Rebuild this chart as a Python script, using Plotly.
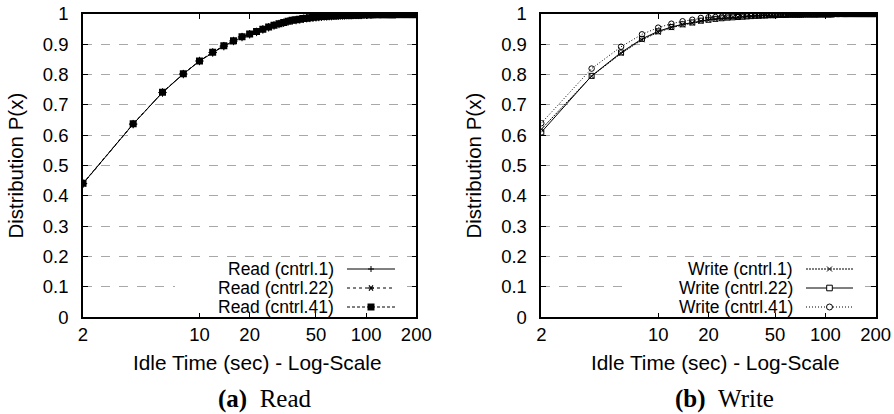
import math
import plotly.graph_objects as go

# ---------------- data ----------------
idle_time = list(range(2, 201, 2))  # sampling grid (sec)

read_cntrl1 = [
    0.441, 0.637, 0.741, 0.802, 0.845, 0.873, 0.894, 0.911, 0.924, 0.933,
    0.941, 0.949, 0.956, 0.962, 0.967, 0.971, 0.975, 0.978, 0.980, 0.982,
    0.984, 0.986, 0.987, 0.988, 0.989, 0.990, 0.991, 0.992, 0.992, 0.993,
    0.993, 0.994, 0.994, 0.994, 0.995, 0.995, 0.995, 0.996, 0.996, 0.996,
    0.996, 0.997, 0.997, 0.997, 0.997, 0.997, 0.997, 0.998, 0.998, 0.998,
    0.998, 0.998, 0.998, 0.998, 0.998, 0.999, 0.999, 0.999, 0.999, 0.999,
    0.999, 0.999, 0.999, 0.999, 0.999, 0.999, 0.999, 0.999, 0.999, 0.999,
    0.999, 0.999, 0.999, 0.999, 0.999, 1.000, 1.000, 1.000, 1.000, 1.000,
    1.000, 1.000, 1.000, 1.000, 1.000, 1.000, 1.000, 1.000, 1.000, 1.000,
    1.000, 1.000, 1.000, 1.000, 1.000, 1.000, 1.000, 1.000, 1.000, 1.000,
]
read_cntrl22 = [
    0.440, 0.637, 0.742, 0.803, 0.845, 0.874, 0.895, 0.912, 0.925, 0.934,
    0.942, 0.950, 0.957, 0.963, 0.968, 0.972, 0.976, 0.979, 0.981, 0.983,
    0.985, 0.986, 0.988, 0.989, 0.990, 0.991, 0.992, 0.992, 0.993, 0.993,
    0.994, 0.994, 0.994, 0.995, 0.995, 0.995, 0.996, 0.996, 0.996, 0.996,
    0.997, 0.997, 0.997, 0.997, 0.997, 0.997, 0.998, 0.998, 0.998, 0.998,
    0.998, 0.998, 0.998, 0.998, 0.998, 0.999, 0.999, 0.999, 0.999, 0.999,
    0.999, 0.999, 0.999, 0.999, 0.999, 0.999, 0.999, 0.999, 0.999, 0.999,
    0.999, 0.999, 0.999, 0.999, 0.999, 1.000, 1.000, 1.000, 1.000, 1.000,
    1.000, 1.000, 1.000, 1.000, 1.000, 1.000, 1.000, 1.000, 1.000, 1.000,
    1.000, 1.000, 1.000, 1.000, 1.000, 1.000, 1.000, 1.000, 1.000, 1.000,
]
read_cntrl41 = [
    0.442, 0.638, 0.742, 0.803, 0.845, 0.874, 0.895, 0.912, 0.925, 0.934,
    0.942, 0.950, 0.957, 0.963, 0.968, 0.972, 0.976, 0.979, 0.981, 0.983,
    0.985, 0.986, 0.988, 0.989, 0.990, 0.991, 0.992, 0.992, 0.993, 0.993,
    0.994, 0.994, 0.994, 0.995, 0.995, 0.995, 0.996, 0.996, 0.996, 0.996,
    0.997, 0.997, 0.997, 0.997, 0.997, 0.997, 0.998, 0.998, 0.998, 0.998,
    0.998, 0.998, 0.998, 0.998, 0.998, 0.999, 0.999, 0.999, 0.999, 0.999,
    0.999, 0.999, 0.999, 0.999, 0.999, 0.999, 0.999, 0.999, 0.999, 0.999,
    0.999, 0.999, 0.999, 0.999, 0.999, 1.000, 1.000, 1.000, 1.000, 1.000,
    1.000, 1.000, 1.000, 1.000, 1.000, 1.000, 1.000, 1.000, 1.000, 1.000,
    1.000, 1.000, 1.000, 1.000, 1.000, 1.000, 1.000, 1.000, 1.000, 1.000,
]

write_cntrl1 = [
    0.620, 0.795, 0.870, 0.915, 0.940, 0.955, 0.964, 0.970, 0.976, 0.980,
    0.983, 0.985, 0.987, 0.989, 0.990, 0.991, 0.992, 0.993, 0.994, 0.994,
    0.995, 0.995, 0.996, 0.996, 0.996, 0.997, 0.997, 0.997, 0.997, 0.998,
    0.998, 0.998, 0.998, 0.998, 0.998, 0.998, 0.999, 0.999, 0.999, 0.999,
    0.999, 0.999, 0.999, 0.999, 0.999, 0.999, 0.999, 0.999, 0.999, 0.999,
    0.999, 0.999, 0.999, 0.999, 0.999, 1.000, 1.000, 1.000, 1.000, 1.000,
    1.000, 1.000, 1.000, 1.000, 1.000, 1.000, 1.000, 1.000, 1.000, 1.000,
    1.000, 1.000, 1.000, 1.000, 1.000, 1.000, 1.000, 1.000, 1.000, 1.000,
    1.000, 1.000, 1.000, 1.000, 1.000, 1.000, 1.000, 1.000, 1.000, 1.000,
    1.000, 1.000, 1.000, 1.000, 1.000, 1.000, 1.000, 1.000, 1.000, 1.000,
]
write_cntrl22 = [
    0.610, 0.796, 0.873, 0.918, 0.943, 0.957, 0.966, 0.972, 0.978, 0.981,
    0.984, 0.986, 0.988, 0.989, 0.990, 0.991, 0.992, 0.993, 0.994, 0.994,
    0.995, 0.995, 0.996, 0.996, 0.996, 0.997, 0.997, 0.997, 0.997, 0.998,
    0.998, 0.998, 0.998, 0.998, 0.998, 0.998, 0.999, 0.999, 0.999, 0.999,
    0.999, 0.999, 0.999, 0.999, 0.999, 0.999, 0.999, 0.999, 0.999, 0.999,
    0.999, 0.999, 0.999, 0.999, 0.999, 1.000, 1.000, 1.000, 1.000, 1.000,
    1.000, 1.000, 1.000, 1.000, 1.000, 1.000, 1.000, 1.000, 1.000, 1.000,
    1.000, 1.000, 1.000, 1.000, 1.000, 1.000, 1.000, 1.000, 1.000, 1.000,
    1.000, 1.000, 1.000, 1.000, 1.000, 1.000, 1.000, 1.000, 1.000, 1.000,
    1.000, 1.000, 1.000, 1.000, 1.000, 1.000, 1.000, 1.000, 1.000, 1.000,
]
write_cntrl41 = [
    0.640, 0.820, 0.892, 0.933, 0.955, 0.968, 0.976, 0.981, 0.987, 0.989,
    0.990, 0.991, 0.992, 0.993, 0.994, 0.995, 0.995, 0.996, 0.996, 0.997,
    0.997, 0.997, 0.998, 0.998, 0.998, 0.998, 0.998, 0.999, 0.999, 0.999,
    0.999, 0.999, 0.999, 0.999, 0.999, 0.999, 0.999, 0.999, 0.999, 0.999,
    0.999, 0.999, 0.999, 0.999, 0.999, 1.000, 1.000, 1.000, 1.000, 1.000,
    1.000, 1.000, 1.000, 1.000, 1.000, 1.000, 1.000, 1.000, 1.000, 1.000,
    1.000, 1.000, 1.000, 1.000, 1.000, 1.000, 1.000, 1.000, 1.000, 1.000,
    1.000, 1.000, 1.000, 1.000, 1.000, 1.000, 1.000, 1.000, 1.000, 1.000,
    1.000, 1.000, 1.000, 1.000, 1.000, 1.000, 1.000, 1.000, 1.000, 1.000,
    1.000, 1.000, 1.000, 1.000, 1.000, 1.000, 1.000, 1.000, 1.000, 1.000,
]

x_tick_vals = [2, 10, 20, 50, 100, 200]
x_tick_text = ["2", "10", "20", "50", "100", "200"]
y_tick_vals = [0, 0.1, 0.2, 0.3, 0.4, 0.5, 0.6, 0.7, 0.8, 0.9, 1]
y_tick_text = ["0", "0.1", "0.2", "0.3", "0.4", "0.5", "0.6", "0.7", "0.8", "0.9", "1"]

read_names = ["Read (cntrl.1)", "Read (cntrl.22)", "Read (cntrl.41)"]
write_names = ["Write (cntrl.1)", "Write (cntrl.22)", "Write (cntrl.41)"]

x_title = "Idle Time (sec) - Log-Scale"
y_title = "Distribution P(x)"
captions = ["<b>(a)</b>\u00a0\u00a0Read", "<b>(b)</b>\u00a0\u00a0Write"]

# ---------------- layout helpers ----------------
W, H = 894, 414
SANS = "Liberation Sans, Arial, Helvetica, sans-serif"
SERIF = "Liberation Serif, Times New Roman, serif"


def px(x):
    return x / W


def py(y):
    return 1 - y / H


PLOT_TOP, PLOT_BOT = 14, 317.3
LEFT_DOM = (83, 416.3)
RIGHT_DOM = (541.3, 875.7)

fig = go.Figure()

read_styles = [
    dict(symbol="cross-thin", size=6, line=dict(width=1, color="black")),
    dict(symbol="asterisk", size=6, line=dict(width=1, color="black")),
    dict(symbol="square", size=7, color="black"),
]
read_dash = ["solid", "dot", "3px,2px"]
for name, ys, ms, dash in zip(read_names, [read_cntrl1, read_cntrl22, read_cntrl41],
                              read_styles, read_dash):
    fig.add_trace(go.Scatter(
        x=idle_time, y=ys, name=name, mode="lines+markers",
        line=dict(color="black", width=1, dash=dash),
        marker=ms, xaxis="x", yaxis="y", showlegend=False,
    ))

write_styles = [
    dict(symbol="x-thin", size=5, line=dict(width=1, color="black")),
    dict(symbol="square-open", size=5, color="black", line=dict(width=1)),
    dict(symbol="circle-open", size=5.5, color="black", line=dict(width=1)),
]
write_dash = ["2px,1px", "solid", "1px,2px"]
for name, ys, ms, dash in zip(write_names, [write_cntrl1, write_cntrl22, write_cntrl41],
                              write_styles, write_dash):
    fig.add_trace(go.Scatter(
        x=idle_time, y=ys, name=name, mode="lines+markers",
        line=dict(color="black", width=1, dash=dash),
        marker=ms, xaxis="x2", yaxis="y2", showlegend=False,
    ))

xcommon = dict(
    type="log", range=[math.log10(2), math.log10(200)],
    tickvals=x_tick_vals, ticktext=x_tick_text,
    ticks="inside", ticklen=5, tickwidth=1, tickcolor="black",
    showline=True, linecolor="black", linewidth=1.5, mirror="ticks",
    showgrid=False, zeroline=False,
    tickfont=dict(family=SANS, size=18.5, color="black"),
    ticklabelstandoff=0,
    automargin=False,
)
ycommon = dict(
    range=[0, 1], tickvals=y_tick_vals, ticktext=y_tick_text,
    ticks="inside", ticklen=5, tickwidth=1, tickcolor="black",
    showline=True, linecolor="black", linewidth=1.5, mirror="ticks",
    showgrid=True, gridcolor="#a8a8a8", gridwidth=1, griddash="dash",
    zeroline=False,
    tickfont=dict(family=SANS, size=18.5, color="black"),
    ticklabelstandoff=9,
    title=dict(text=y_title, font=dict(family=SANS, size=20.5, color="black"),
               standoff=14),
    automargin=False,
)

ydom = [py(PLOT_BOT), py(PLOT_TOP)]
fig.update_layout(
    width=W, height=H,
    margin=dict(l=0, r=0, t=0, b=0, pad=0, autoexpand=False),
    paper_bgcolor="white", plot_bgcolor="white",
    xaxis=dict(domain=[px(LEFT_DOM[0]), px(LEFT_DOM[1])], anchor="y", **xcommon),
    yaxis=dict(domain=ydom, anchor="x", **ycommon),
    xaxis2=dict(domain=[px(RIGHT_DOM[0]), px(RIGHT_DOM[1])], anchor="y2", **xcommon),
    yaxis2=dict(domain=ydom, anchor="x2", **ycommon),
)

annotations = []
shapes = []

# x-axis titles & captions
for xl, cap_x, cap in [(257, 265, captions[0]), (715, 724, captions[1])]:
    annotations.append(dict(x=px(xl), y=py(362), xref="paper", yref="paper",
                            text=x_title, showarrow=False, xanchor="center", yanchor="middle",
                            font=dict(family=SANS, size=20.8, color="black")))
    annotations.append(dict(x=px(cap_x), y=py(399), xref="paper", yref="paper",
                            text=cap, showarrow=False, xanchor="center", yanchor="middle",
                            font=dict(family=SERIF, size=25, color="black")))

# legends (gnuplot style: text right, sample to the right)
rows = [269, 288, 307]


def seg(x0, y0, x1, y1, dash="solid", width=1, color="black"):
    shapes.append(dict(type="line", xref="paper", yref="paper",
                       x0=px(x0), y0=py(y0), x1=px(x1), y1=py(y1),
                       line=dict(color=color, width=width, dash=dash), layer="above"))


def legend_block(names, box, text_right, line_x0, line_x1, dashes, glyphs):
    shapes.append(dict(type="rect", xref="paper", yref="paper",
                       x0=px(box[0]), x1=px(box[1]), y0=py(box[2]), y1=py(box[3]),
                       fillcolor="white", line=dict(width=0), layer="above"))
    mx = (line_x0 + line_x1) / 2
    for name, y, dash, glyph in zip(names, rows, dashes, glyphs):
        annotations.append(dict(x=px(text_right), y=py(y), xref="paper", yref="paper",
                                text=name, showarrow=False, xanchor="right", yanchor="middle",
                                borderpad=0,
                                font=dict(family=SANS, size=17.5, color="black")))
        seg(line_x0, y, line_x1, y, dash=dash)
        r = 3
        if glyph == "plus":
            seg(mx - r, y, mx + r, y)
            seg(mx, y - r, mx, y + r)
        elif glyph == "star":
            seg(mx - r, y, mx + r, y, width=1.2)
            seg(mx - 2, y - 2.6, mx + 2, y + 2.6, width=1.2)
            seg(mx - 2, y + 2.6, mx + 2, y - 2.6, width=1.2)
        elif glyph == "fsquare":
            shapes.append(dict(type="rect", xref="paper", yref="paper",
                               x0=px(mx - 3.5), x1=px(mx + 3.5), y0=py(y - 3.5), y1=py(y + 3.5),
                               fillcolor="black", line=dict(width=0), layer="above"))
        elif glyph == "x":
            seg(mx - 2.5, y - 2.5, mx + 2.5, y + 2.5)
            seg(mx - 2.5, y + 2.5, mx + 2.5, y - 2.5)
        elif glyph == "osquare":
            shapes.append(dict(type="rect", xref="paper", yref="paper",
                               x0=px(mx - 2.8), x1=px(mx + 2.8), y0=py(y - 2.8), y1=py(y + 2.8),
                               fillcolor="white", line=dict(width=1, color="black"), layer="above"))
        elif glyph == "ocircle":
            shapes.append(dict(type="circle", xref="paper", yref="paper",
                               x0=px(mx - 3), x1=px(mx + 3), y0=py(y - 3), y1=py(y + 3),
                               fillcolor="white", line=dict(width=1, color="black"), layer="above"))


legend_block(read_names, (175, 405, 261, 312), 335, 347, 395,
             read_dash, ["plus", "star", "fsquare"])
legend_block(write_names, (623, 865, 261, 312), 794, 806, 853,
             write_dash, ["x", "osquare", "ocircle"])

fig.update_layout(annotations=annotations, shapes=shapes)

fig.write_html("out.html",
               config={"displayModeBar": False},
               post_script="document.body.style.margin='0px';document.body.style.overflow='hidden';")
